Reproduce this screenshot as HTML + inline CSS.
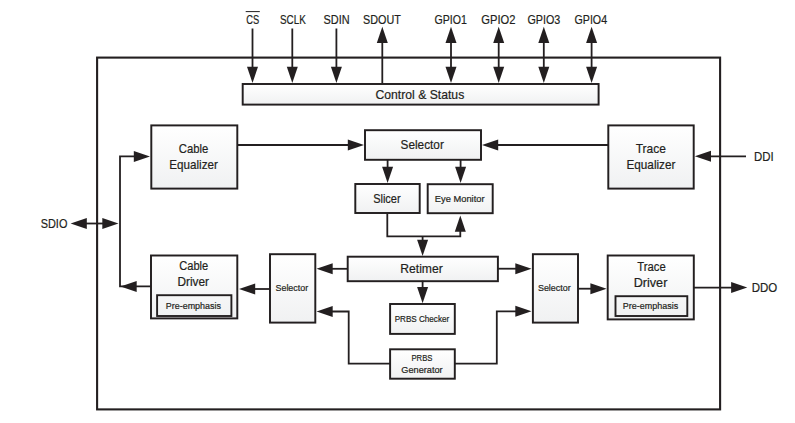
<!DOCTYPE html>
<html><head><meta charset="utf-8"><style>
html,body{margin:0;padding:0;background:#fff;}
body{width:795px;height:423px;overflow:hidden;}
svg{display:block;}
text{font-family:"Liberation Sans",sans-serif;fill:#231f20;stroke:#231f20;stroke-width:0.2px;}
</style></head><body>
<svg width="795" height="423" viewBox="0 0 795 423">
<defs><linearGradient id="g" x1="0" y1="0" x2="0" y2="1">
<stop offset="0" stop-color="#ffffff"/><stop offset="1" stop-color="#f0f1f2"/></linearGradient></defs>
<rect width="795" height="423" fill="#fff"/>
<rect x="97.1" y="57.6" width="623.0" height="351.8" fill="none" stroke="#231f20" stroke-width="2.1"/>
<line x1="252.5" y1="28.5" x2="252.5" y2="70" stroke="#231f20" stroke-width="1.8"/>
<polygon points="252.50,83.00 247.00,66.80 258.00,66.80" fill="#231f20"/>
<line x1="292.3" y1="28.5" x2="292.3" y2="70" stroke="#231f20" stroke-width="1.8"/>
<polygon points="292.30,83.00 286.80,66.80 297.80,66.80" fill="#231f20"/>
<line x1="336.4" y1="28.5" x2="336.4" y2="70" stroke="#231f20" stroke-width="1.8"/>
<polygon points="336.40,83.00 330.90,66.80 341.90,66.80" fill="#231f20"/>
<line x1="382.3" y1="40" x2="382.3" y2="83" stroke="#231f20" stroke-width="1.8"/>
<polygon points="382.30,26.80 376.80,43.00 387.80,43.00" fill="#231f20"/>
<line x1="451.0" y1="40" x2="451.0" y2="70" stroke="#231f20" stroke-width="1.8"/>
<polygon points="451.00,26.80 445.50,43.00 456.50,43.00" fill="#231f20"/>
<polygon points="451.00,83.00 445.50,66.80 456.50,66.80" fill="#231f20"/>
<line x1="498.7" y1="40" x2="498.7" y2="70" stroke="#231f20" stroke-width="1.8"/>
<polygon points="498.70,26.80 493.20,43.00 504.20,43.00" fill="#231f20"/>
<polygon points="498.70,83.00 493.20,66.80 504.20,66.80" fill="#231f20"/>
<line x1="543.8" y1="40" x2="543.8" y2="70" stroke="#231f20" stroke-width="1.8"/>
<polygon points="543.80,26.80 538.30,43.00 549.30,43.00" fill="#231f20"/>
<polygon points="543.80,83.00 538.30,66.80 549.30,66.80" fill="#231f20"/>
<line x1="591.6" y1="40" x2="591.6" y2="70" stroke="#231f20" stroke-width="1.8"/>
<polygon points="591.60,26.80 586.10,43.00 597.10,43.00" fill="#231f20"/>
<polygon points="591.60,83.00 586.10,66.80 597.10,66.80" fill="#231f20"/>
<rect x="242.7" y="84.0" width="355.90" height="20.60" fill="url(#g)" stroke="#231f20" stroke-width="1.95"/>
<rect x="151.3" y="125.4" width="86.00" height="63.20" fill="url(#g)" stroke="#231f20" stroke-width="1.95"/>
<rect x="608.3" y="125.4" width="85.40" height="63.20" fill="url(#g)" stroke="#231f20" stroke-width="1.95"/>
<rect x="365.0" y="130.2" width="116.00" height="29.60" fill="url(#g)" stroke="#231f20" stroke-width="1.95"/>
<rect x="355.3" y="184.0" width="64.40" height="29.00" fill="url(#g)" stroke="#231f20" stroke-width="1.95"/>
<rect x="427.7" y="184.2" width="65.00" height="29.00" fill="url(#g)" stroke="#231f20" stroke-width="1.95"/>
<rect x="347.7" y="256.7" width="150.20" height="24.50" fill="url(#g)" stroke="#231f20" stroke-width="1.95"/>
<rect x="151.0" y="255.5" width="86.30" height="62.90" fill="url(#g)" stroke="#231f20" stroke-width="1.95"/>
<rect x="607.7" y="255.5" width="86.10" height="63.90" fill="url(#g)" stroke="#231f20" stroke-width="1.95"/>
<rect x="157.1" y="295.2" width="74.30" height="20.80" fill="none" stroke="#231f20" stroke-width="1.9"/>
<rect x="615.5" y="296.2" width="71.80" height="19.80" fill="none" stroke="#231f20" stroke-width="1.9"/>
<rect x="270.0" y="254.2" width="45.30" height="68.40" fill="url(#g)" stroke="#231f20" stroke-width="1.95"/>
<rect x="532.9" y="254.2" width="45.10" height="68.40" fill="url(#g)" stroke="#231f20" stroke-width="1.95"/>
<rect x="390.1" y="304.0" width="64.70" height="29.90" fill="url(#g)" stroke="#231f20" stroke-width="1.95"/>
<rect x="390.1" y="349.3" width="64.70" height="29.40" fill="url(#g)" stroke="#231f20" stroke-width="1.95"/>
<line x1="80" y1="223.5" x2="108" y2="223.5" stroke="#231f20" stroke-width="1.8"/>
<polygon points="70.60,223.50 86.80,218.00 86.80,229.00" fill="#231f20"/>
<polygon points="118.50,223.50 102.30,218.00 102.30,229.00" fill="#231f20"/>
<polyline points="140,156.4 120.0,156.4 120.0,286.4 151,286.4" fill="none" stroke="#231f20" stroke-width="1.8" stroke-linejoin="miter"/>
<polygon points="150.00,156.40 133.80,150.90 133.80,161.90" fill="#231f20"/>
<polygon points="120.50,286.40 136.70,280.90 136.70,291.90" fill="#231f20"/>
<line x1="237" y1="145.0" x2="352" y2="145.0" stroke="#231f20" stroke-width="1.8"/>
<polygon points="364.00,145.00 347.80,139.50 347.80,150.50" fill="#231f20"/>
<line x1="494" y1="145.0" x2="608" y2="145.0" stroke="#231f20" stroke-width="1.8"/>
<polygon points="482.00,145.00 498.20,139.50 498.20,150.50" fill="#231f20"/>
<line x1="705" y1="156.3" x2="746.0" y2="156.3" stroke="#231f20" stroke-width="1.8"/>
<polygon points="694.80,156.30 711.00,150.80 711.00,161.80" fill="#231f20"/>
<line x1="387.6" y1="159.8" x2="387.6" y2="170" stroke="#231f20" stroke-width="1.8"/>
<polygon points="387.60,183.00 382.10,166.80 393.10,166.80" fill="#231f20"/>
<line x1="460.6" y1="159.8" x2="460.6" y2="170" stroke="#231f20" stroke-width="1.8"/>
<polygon points="460.60,183.00 455.10,166.80 466.10,166.80" fill="#231f20"/>
<polyline points="387.3,213.5 387.3,236.4 460.3,236.4 460.3,225" fill="none" stroke="#231f20" stroke-width="1.8" stroke-linejoin="miter"/>
<polygon points="460.30,215.50 454.80,231.70 465.80,231.70" fill="#231f20"/>
<line x1="422.6" y1="236.4" x2="422.6" y2="245" stroke="#231f20" stroke-width="1.8"/>
<polygon points="422.60,256.00 417.10,239.80 428.10,239.80" fill="#231f20"/>
<line x1="322" y1="268.8" x2="347.8" y2="268.8" stroke="#231f20" stroke-width="1.8"/>
<polygon points="316.50,268.80 332.70,263.30 332.70,274.30" fill="#231f20"/>
<line x1="497.3" y1="268.7" x2="520" y2="268.7" stroke="#231f20" stroke-width="1.8"/>
<polygon points="531.50,268.70 515.30,263.20 515.30,274.20" fill="#231f20"/>
<line x1="422.6" y1="280.7" x2="422.6" y2="290" stroke="#231f20" stroke-width="1.8"/>
<polygon points="422.60,303.20 417.10,287.00 428.10,287.00" fill="#231f20"/>
<polyline points="390.1,363.6 348.7,363.6 348.7,311.5 325,311.5" fill="none" stroke="#231f20" stroke-width="1.8" stroke-linejoin="miter"/>
<polygon points="316.50,311.50 332.70,306.00 332.70,317.00" fill="#231f20"/>
<polyline points="454.8,363.6 496.8,363.6 496.8,311.3 520,311.3" fill="none" stroke="#231f20" stroke-width="1.8" stroke-linejoin="miter"/>
<polygon points="531.50,311.30 515.30,305.80 515.30,316.80" fill="#231f20"/>
<line x1="248" y1="289.0" x2="270" y2="289.0" stroke="#231f20" stroke-width="1.8"/>
<polygon points="239.00,289.00 255.20,283.50 255.20,294.50" fill="#231f20"/>
<line x1="578" y1="288.7" x2="595" y2="288.7" stroke="#231f20" stroke-width="1.8"/>
<polygon points="606.60,288.70 590.40,283.20 590.40,294.20" fill="#231f20"/>
<line x1="693.8" y1="287.6" x2="735" y2="287.6" stroke="#231f20" stroke-width="1.8"/>
<polygon points="747.30,287.60 731.10,282.10 731.10,293.10" fill="#231f20"/>
<line x1="245.7" y1="11.6" x2="259.8" y2="11.6" stroke="#231f20" stroke-width="1.0"/>
<text x="252.70" y="23.90" font-size="12.57" text-anchor="middle" textLength="12.97" lengthAdjust="spacingAndGlyphs">CS</text>
<text x="292.95" y="23.90" font-size="12.57" text-anchor="middle" textLength="25.83" lengthAdjust="spacingAndGlyphs">SCLK</text>
<text x="336.50" y="23.90" font-size="12.57" text-anchor="middle" textLength="26.15" lengthAdjust="spacingAndGlyphs">SDIN</text>
<text x="381.95" y="23.90" font-size="12.57" text-anchor="middle" textLength="37.87" lengthAdjust="spacingAndGlyphs">SDOUT</text>
<text x="450.65" y="23.90" font-size="12.57" text-anchor="middle" textLength="32.40" lengthAdjust="spacingAndGlyphs">GPIO1</text>
<text x="498.40" y="23.90" font-size="12.57" text-anchor="middle" textLength="34.11" lengthAdjust="spacingAndGlyphs">GPIO2</text>
<text x="543.85" y="23.90" font-size="12.57" text-anchor="middle" textLength="32.82" lengthAdjust="spacingAndGlyphs">GPIO3</text>
<text x="590.80" y="23.90" font-size="12.57" text-anchor="middle" textLength="32.60" lengthAdjust="spacingAndGlyphs">GPIO4</text>
<text x="419.85" y="98.90" font-size="12.57" text-anchor="middle" textLength="88.82" lengthAdjust="spacingAndGlyphs">Control &amp; Status</text>
<text x="193.60" y="153.00" font-size="12.57" text-anchor="middle" textLength="29.53" lengthAdjust="spacingAndGlyphs">Cable</text>
<text x="193.60" y="168.90" font-size="12.57" text-anchor="middle" textLength="48.52" lengthAdjust="spacingAndGlyphs">Equalizer</text>
<text x="422.20" y="148.90" font-size="12.57" text-anchor="middle" textLength="43.33" lengthAdjust="spacingAndGlyphs">Selector</text>
<text x="650.75" y="153.00" font-size="12.57" text-anchor="middle" textLength="30.21" lengthAdjust="spacingAndGlyphs">Trace</text>
<text x="650.95" y="168.90" font-size="12.57" text-anchor="middle" textLength="49.01" lengthAdjust="spacingAndGlyphs">Equalizer</text>
<text x="763.90" y="160.80" font-size="12.57" text-anchor="middle" textLength="19.70" lengthAdjust="spacingAndGlyphs">DDI</text>
<text x="386.90" y="203.10" font-size="12.57" text-anchor="middle" textLength="27.51" lengthAdjust="spacingAndGlyphs">Slicer</text>
<text x="459.70" y="202.30" font-size="9.36" text-anchor="middle" textLength="49.73" lengthAdjust="spacingAndGlyphs">Eye Monitor</text>
<text x="54.05" y="227.80" font-size="12.57" text-anchor="middle" textLength="26.69" lengthAdjust="spacingAndGlyphs">SDIO</text>
<text x="421.50" y="272.60" font-size="12.57" text-anchor="middle" textLength="42.50" lengthAdjust="spacingAndGlyphs">Retimer</text>
<text x="193.75" y="270.00" font-size="12.01" text-anchor="middle" textLength="28.95" lengthAdjust="spacingAndGlyphs">Cable</text>
<text x="193.25" y="285.50" font-size="12.01" text-anchor="middle" textLength="31.59" lengthAdjust="spacingAndGlyphs">Driver</text>
<text x="193.40" y="309.00" font-size="9.64" text-anchor="middle" textLength="55.17" lengthAdjust="spacingAndGlyphs">Pre-emphasis</text>
<text x="291.85" y="290.80" font-size="9.50" text-anchor="middle" textLength="32.68" lengthAdjust="spacingAndGlyphs">Selector</text>
<text x="554.30" y="290.80" font-size="9.50" text-anchor="middle" textLength="32.75" lengthAdjust="spacingAndGlyphs">Selector</text>
<text x="651.55" y="270.90" font-size="12.01" text-anchor="middle" textLength="28.42" lengthAdjust="spacingAndGlyphs">Trace</text>
<text x="650.50" y="286.90" font-size="12.01" text-anchor="middle" textLength="33.70" lengthAdjust="spacingAndGlyphs">Driver</text>
<text x="650.50" y="309.00" font-size="9.64" text-anchor="middle" textLength="55.36" lengthAdjust="spacingAndGlyphs">Pre-emphasis</text>
<text x="764.40" y="291.80" font-size="12.15" text-anchor="middle" textLength="25.55" lengthAdjust="spacingAndGlyphs">DDO</text>
<text x="421.90" y="321.80" font-size="9.36" text-anchor="middle" textLength="54.54" lengthAdjust="spacingAndGlyphs">PRBS Checker</text>
<text x="421.95" y="360.90" font-size="9.36" text-anchor="middle" textLength="21.04" lengthAdjust="spacingAndGlyphs">PRBS</text>
<text x="422.00" y="372.70" font-size="9.36" text-anchor="middle" textLength="41.31" lengthAdjust="spacingAndGlyphs">Generator</text>
</svg>
</body></html>
